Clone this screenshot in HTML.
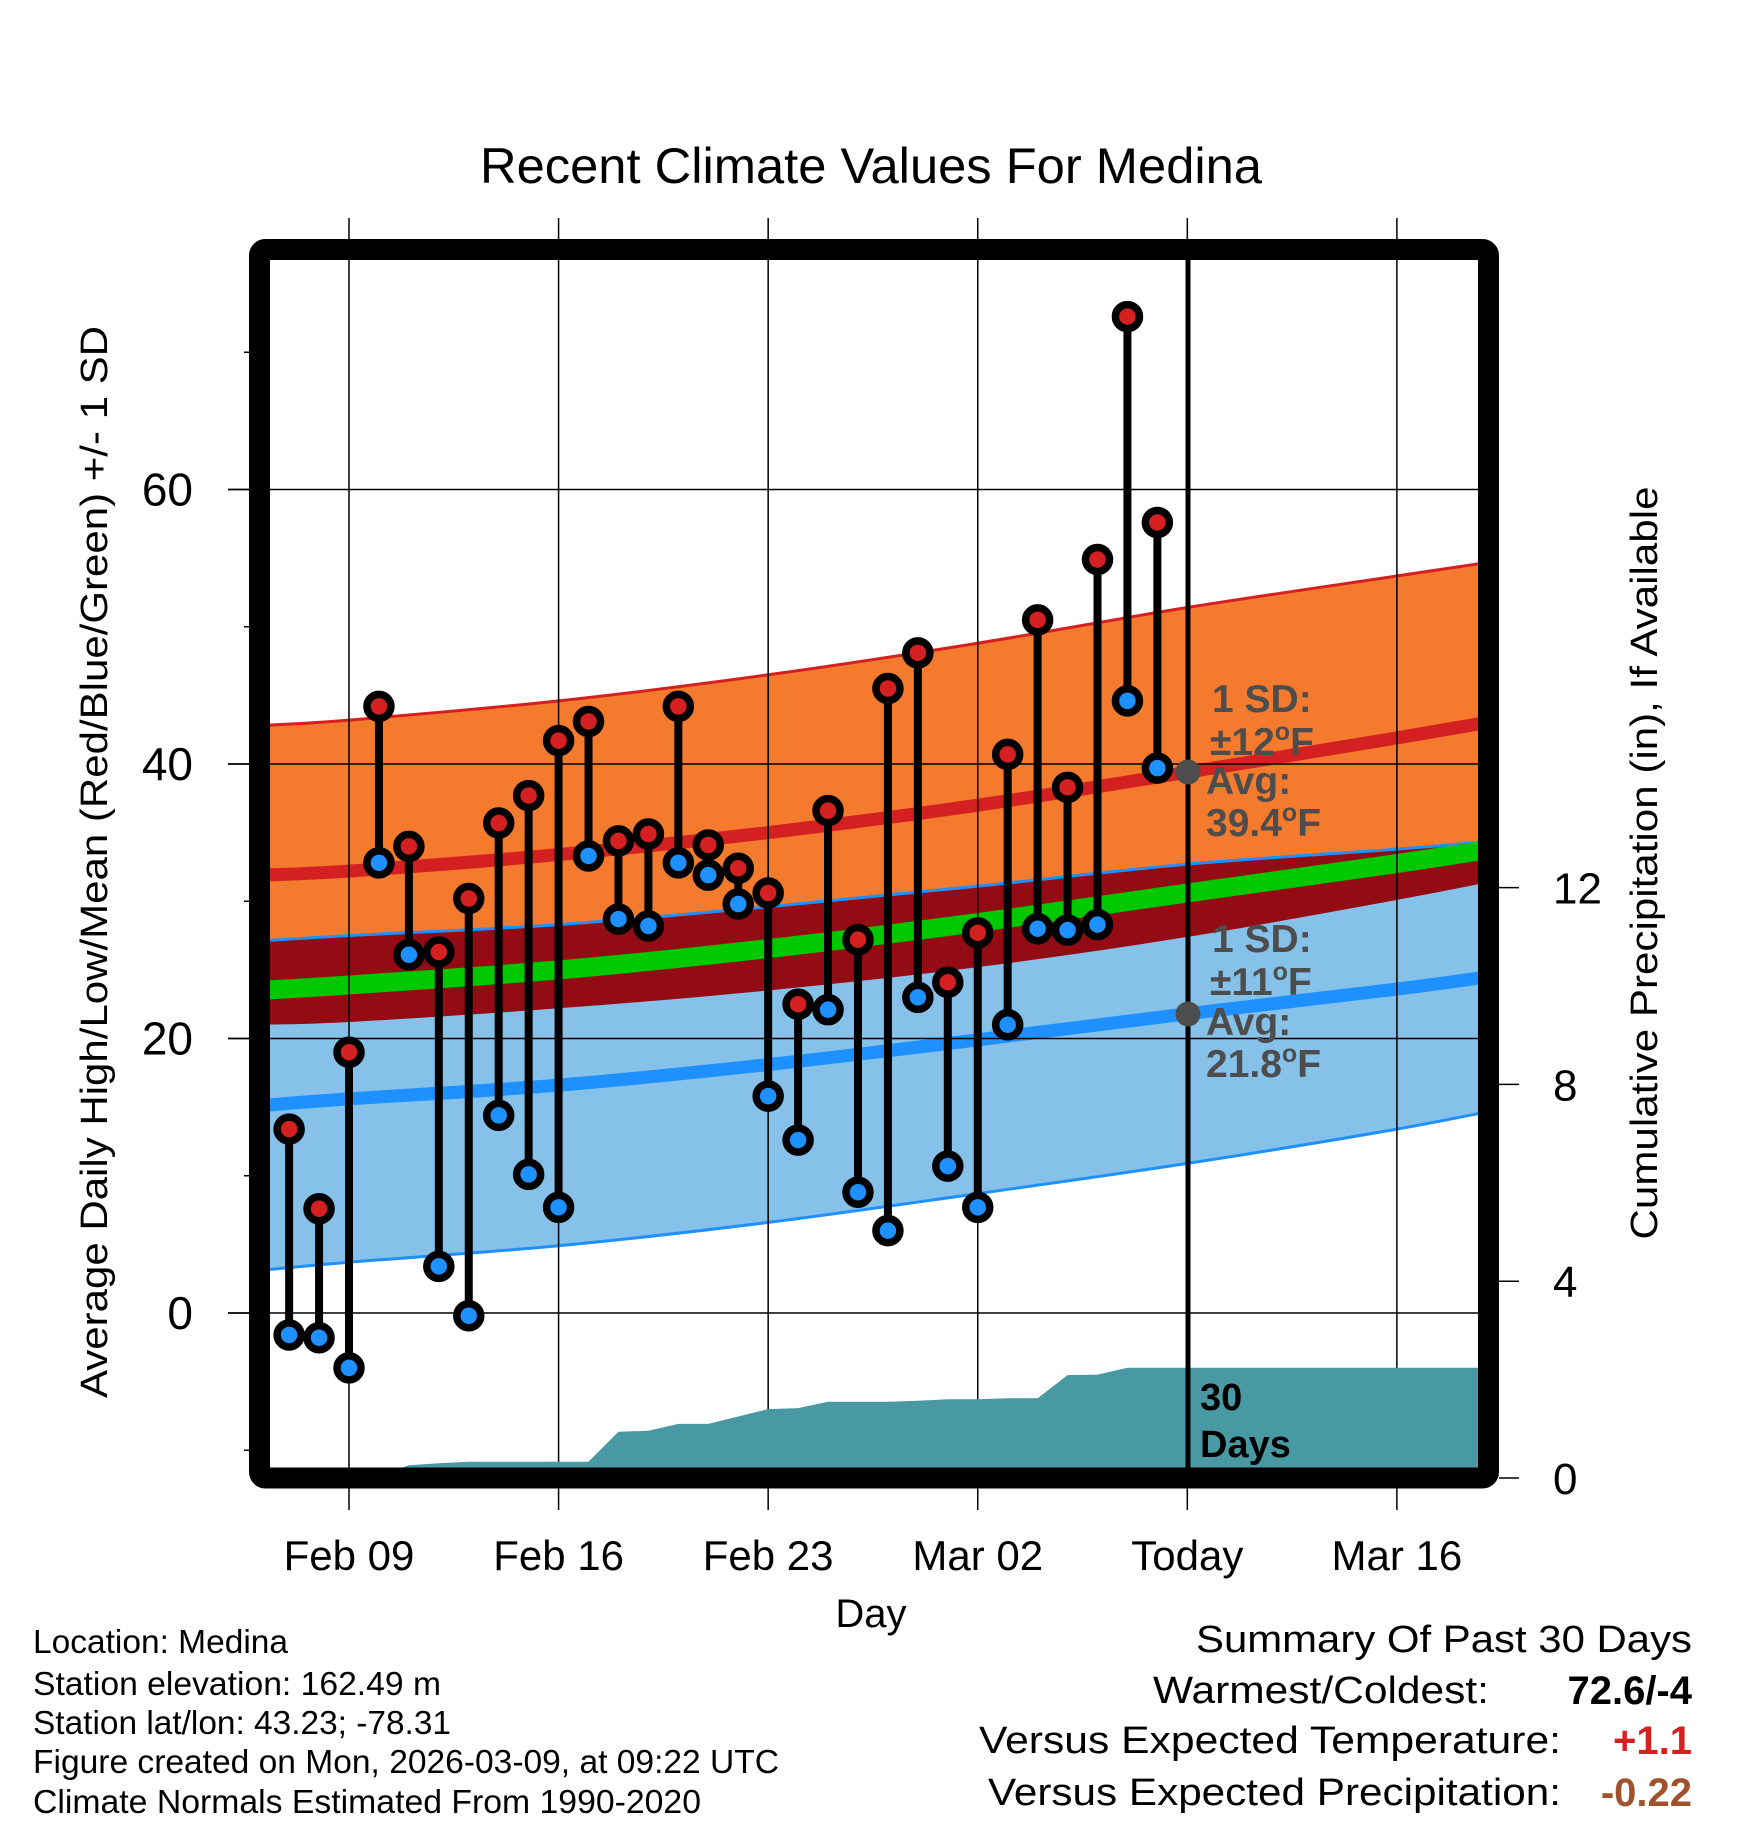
<!DOCTYPE html>
<html><head><meta charset="utf-8"><style>
html,body{margin:0;padding:0;background:#fff;}
svg{display:block;font-family:"Liberation Sans",Arial,sans-serif;}
</style></head><body>
<svg id="chart" xmlns="http://www.w3.org/2000/svg" width="1748" height="1828" viewBox="0 0 1748 1828">
<defs><clipPath id="clip"><rect x="270" y="260" width="1208" height="1208"/></clipPath></defs>
<rect width="1748" height="1828" fill="#fff"/>
<text x="871" y="183" font-size="50" text-anchor="middle" textLength="782" lengthAdjust="spacingAndGlyphs">Recent Climate Values For Medina</text>
<g id="bands" clip-path="url(#clip)"></g>
<g id="grid"></g>
<g id="precip" clip-path="url(#clip)"></g>
<line x1="1188" y1="260" x2="1188" y2="1468" stroke="#000" stroke-width="5"/>
<g id="marks"></g>
<rect x="259.5" y="249.5" width="1229" height="1228.5" fill="none" stroke="#000" stroke-width="21" rx="6"/>
<g id="axes"></g>
<g font-weight="bold" fill="#4d4d4d" font-size="39">
<circle cx="1188" cy="772" r="12.5" fill="#4d4d4d"/>
<circle cx="1188" cy="1014" r="12.5" fill="#4d4d4d"/>
<text x="1212" y="712">1 SD:</text>
<text x="1210" y="755">±12<tspan font-size="25" dy="-15">o</tspan><tspan dy="15">F</tspan></text>
<text x="1206" y="794">Avg:</text>
<text x="1206" y="836">39.4<tspan font-size="25" dy="-15">o</tspan><tspan dy="15">F</tspan></text>
<text x="1212" y="952">1 SD:</text>
<text x="1210" y="995">±11<tspan font-size="25" dy="-15">o</tspan><tspan dy="15">F</tspan></text>
<text x="1206" y="1035">Avg:</text>
<text x="1206" y="1077">21.8<tspan font-size="25" dy="-15">o</tspan><tspan dy="15">F</tspan></text>
</g>
<g font-weight="bold" font-size="38" fill="#000">
<text x="1200" y="1410">30</text><text x="1200" y="1457">Days</text>
</g>
<text x="871" y="1627" font-size="40" text-anchor="middle">Day</text>
<text transform="translate(107,862) rotate(-90)" font-size="38" text-anchor="middle" textLength="1072" lengthAdjust="spacingAndGlyphs">Average Daily High/Low/Mean (Red/Blue/Green) +/- 1 SD</text>
<text transform="translate(1657,863) rotate(-90)" font-size="38" text-anchor="middle" textLength="753" lengthAdjust="spacingAndGlyphs">Cumulative Precipitation (in), If Available</text>
<g font-size="33">
<text x="33" y="1653" textLength="255" lengthAdjust="spacingAndGlyphs">Location: Medina</text>
<text x="33" y="1695" textLength="408" lengthAdjust="spacingAndGlyphs">Station elevation: 162.49 m</text>
<text x="33" y="1734" textLength="418" lengthAdjust="spacingAndGlyphs">Station lat/lon: 43.23; -78.31</text>
<text x="33" y="1773" textLength="746" lengthAdjust="spacingAndGlyphs">Figure created on Mon, 2026-03-09, at 09:22 UTC</text>
<text x="33" y="1813" textLength="668" lengthAdjust="spacingAndGlyphs">Climate Normals Estimated From 1990-2020</text>
</g>
<g font-size="38">
<text x="1692" y="1652" text-anchor="end" textLength="496" lengthAdjust="spacingAndGlyphs">Summary Of Past 30 Days</text>
<text x="1489" y="1703" text-anchor="end" textLength="336" lengthAdjust="spacingAndGlyphs">Warmest/Coldest:</text>
<text x="1692" y="1704" text-anchor="end" font-weight="bold" font-size="40">72.6/-4</text>
<text x="1561" y="1753" text-anchor="end" textLength="582" lengthAdjust="spacingAndGlyphs">Versus Expected Temperature:</text>
<text x="1692" y="1754" text-anchor="end" font-weight="bold" font-size="40" fill="#d42020">+1.1</text>
<text x="1561" y="1805" text-anchor="end" textLength="573" lengthAdjust="spacingAndGlyphs">Versus Expected Precipitation:</text>
<text x="1692" y="1806" text-anchor="end" font-weight="bold" font-size="40" fill="#a0522d">-0.22</text>
</g>
</svg>
<script>
// day offsets relative to Feb 09
const days = [-2,-1,0,1,2,3,4,5,6,7,8,9,10,11,12,13,14,15,16,17,18,19,20,21,22,23,24,25,26,27];
const highs = [13.4,7.6,19.0,44.2,34.0,26.3,30.2,35.7,37.7,41.7,43.1,34.4,34.9,44.2,34.1,32.4,30.6,22.5,36.6,27.2,45.5,48.1,24.1,27.7,40.7,50.5,38.3,54.9,72.6,57.6];
const lows = [-1.6,-1.8,-4.0,32.8,26.1,3.4,-0.2,14.4,10.1,7.7,33.3,28.7,28.2,32.8,31.9,29.8,15.8,12.6,22.1,8.8,6.0,23.0,10.7,7.7,21.0,28.0,27.9,28.3,44.6,39.7];
const precip = [0,0,0,0.05,0.26,0.30,0.33,0.33,0.33,0.33,0.33,0.94,0.96,1.10,1.10,1.25,1.40,1.42,1.55,1.55,1.55,1.57,1.60,1.60,1.62,1.62,2.09,2.10,2.24,2.24];
const normDays = [-3,0,7,14,21,28,35,39];
const hiMean = [31.9,32.2,33.4,35.0,37.0,39.4,41.9,43.4];
const hiSD = [10.9,11.0,11.2,11.5,11.8,12.0,11.8,11.6];
const loMean = [15.1,15.6,16.6,18.1,19.9,21.8,23.6,24.8];
const loSD = [12.0,11.9,11.7,11.5,11.2,10.9,10.2,9.7];
const xTickDays = [0,7,14,21,28,35];
const xTickLabels = ['Feb 09','Feb 16','Feb 23','Mar 02','Today','Mar 16'];
const yTicks = [0,20,40,60];
const yMinor = [-10,10,30,50,70];
const y2Ticks = [0,4,8,12];

const NS='http://www.w3.org/2000/svg';
const xS = d => 349 + d*29.94;
const yT = v => 1313 - v*13.725;
const yP = p => 1478 - p*49.2;
function mk(tag, attrs, parent){const e=document.createElementNS(NS,tag);for(const k in attrs)e.setAttribute(k,attrs[k]);parent.appendChild(e);return e;}
function curvePts(vals){return normDays.map((d,i)=>[xS(d),yT(vals[i])]);}
function smooth(pts){let s='M'+pts[0][0]+','+pts[0][1];for(let i=0;i<pts.length-1;i++){const p0=pts[Math.max(i-1,0)],p1=pts[i],p2=pts[i+1],p3=pts[Math.min(i+2,pts.length-1)];
const c1=[p1[0]+(p2[0]-p0[0])/6,p1[1]+(p2[1]-p0[1])/6],c2=[p2[0]-(p3[0]-p1[0])/6,p2[1]-(p3[1]-p1[1])/6];
s+=' C'+c1[0]+','+c1[1]+' '+c2[0]+','+c2[1]+' '+p2[0]+','+p2[1];}return s;}
function smoothRev(pts){return smooth(pts.slice().reverse()).replace(/^M/,' L');}
function band(upper, lower, fill, name){
  const d=smooth(curvePts(upper))+smoothRev(curvePts(lower))+' Z';
  const e=mk('path',{d:d,fill:fill},document.getElementById('bands'));
  
  
}
function line(vals,stroke,w,name){
  const e=mk('path',{d:smooth(curvePts(vals)),fill:'none',stroke:stroke,'stroke-width':w},document.getElementById('bands'));
  
  
}
const hiUp=hiMean.map((m,i)=>m+hiSD[i]), hiLo=hiMean.map((m,i)=>m-hiSD[i]);
const loUp=loMean.map((m,i)=>m+loSD[i]), loLo=loMean.map((m,i)=>m-loSD[i]);
const avg=hiMean.map((m,i)=>(m+loMean[i])/2);
band(hiUp,hiLo,'#f47a2e','high-sd-band');
band(loUp,loLo,'#85c1e9','low-sd-band');
band(loUp,hiLo,'#930c14','overlap-band');
line(hiUp,'#d42020',3,'high-plus-sd-line');
line(loUp,'#1e90ff',3,'low-plus-sd-line');
line(loLo,'#1e90ff',3,'low-minus-sd-line');
line(avg,'#00c800',19,'mean-line');
line(hiMean,'#d42020',13,'avg-high-line');
line(loMean,'#1e90ff',13,'avg-low-line');

const grid=document.getElementById('grid');
xTickDays.forEach(d=>{const e=mk('line',{x1:xS(d),x2:xS(d),y1:218,y2:1510,stroke:'#000','stroke-width':1.5},grid);

});
yTicks.forEach(v=>{const e=mk('line',{x1:228,x2:1478,y1:yT(v),y2:yT(v),stroke:'#000','stroke-width':1.5},grid);

});

// precipitation
let pd='M'+xS(days[0])+','+yP(0);
days.forEach((d,i)=>{pd+=' L'+xS(d)+','+yP(precip[i]);});
pd+=' L1480,'+yP(precip[precip.length-1])+' L1480,1480 L'+xS(days[0])+',1480 Z';
const pa=mk('path',{d:pd,fill:'#4899a3'},document.getElementById('precip'));



// daily marks
const marks=document.getElementById('marks');
days.forEach((d,i)=>{
  const x=xS(d);
  const s=mk('line',{x1:x,x2:x,y1:yT(highs[i]),y2:yT(lows[i]),stroke:'#000','stroke-width':8},marks);
  
  
});
days.forEach((d,i)=>{
  const x=xS(d);
  const h=mk('circle',{cx:x,cy:yT(highs[i]),r:12,fill:'#d42020',stroke:'#000','stroke-width':7.5},marks);
  
  
  const l=mk('circle',{cx:x,cy:yT(lows[i]),r:12,fill:'#1e90ff',stroke:'#000','stroke-width':7.5},marks);
  
  
});

// axes
const ax=document.getElementById('axes');
yTicks.forEach(v=>{
  const t=mk('line',{x1:228,x2:250,y1:yT(v),y2:yT(v),stroke:'#000','stroke-width':1.5},ax);
  
  
  const l=mk('text',{x:193,y:yT(v)+16,'font-size':46,'text-anchor':'end'},ax);
  l.textContent=String(v);
  
  
});
yMinor.forEach(v=>{
  const t=mk('line',{x1:244,x2:250,y1:yT(v),y2:yT(v),stroke:'#000','stroke-width':1.5},ax);
  
  
});
y2Ticks.forEach(p=>{
  const t=mk('line',{x1:1499,x2:1519,y1:yP(p),y2:yP(p),stroke:'#000','stroke-width':1.5},ax);
  
  
  const l=mk('text',{x:1553,y:yP(p)+16,'font-size':44},ax);
  l.textContent=String(p);
  
  
});
xTickDays.forEach((d,i)=>{
  const l=mk('text',{x:xS(d),y:1570,'font-size':42,'text-anchor':'middle'},ax);
  l.textContent=xTickLabels[i];
  
  
});
</script>
</body></html>
